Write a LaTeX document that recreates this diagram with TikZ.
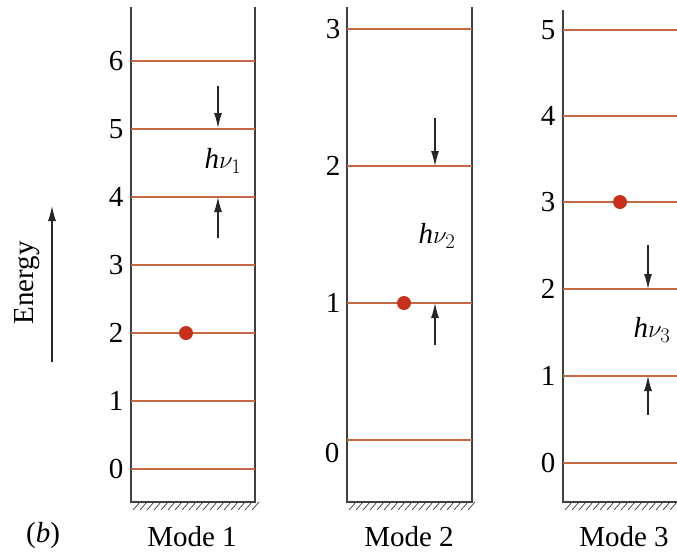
\documentclass[tikz,border=0pt]{standalone}
\usepackage{fontspec}
\setmainfont{Liberation Serif}
\usetikzlibrary{arrows.meta}
\definecolor{levelcol}{RGB}{196,104,72}
\definecolor{dotcol}{RGB}{200,48,28}
\newcommand{\hnu}[1]{{\itshape h}$\nu_{#1}$}
\tikzset{
  wall/.style={line width=1.1pt, black!75},
  level/.style={line width=1.7pt, levelcol},
  hatch/.style={line width=0.7pt, black!75},
  lbl/.style={font=\fontsize{29}{32}\selectfont, inner sep=0pt},
  gap/.style={-{Latex[length=15pt,width=8pt]}, line width=1.1pt, black!85},
  quantum/.style={dotcol, inner sep=0pt, minimum size=14pt, circle, fill=dotcol}
}

\begin{document}
\begin{tikzpicture}[x=1pt,y=-1pt]
\useasboundingbox (0,0) rectangle (677,555);
\clip (0,0) rectangle (677,555);

% energy axis
\coordinate (eLow) at (52,362);
\coordinate (eHigh) at (52,206);
\draw[gap] (eLow) -- (eHigh);
\node[lbl, rotate=90] (energy) at (27,283) {Energy};
\node[lbl] (part) at (43,536) {(\textit{b})};

% mode 1
\draw[wall] (131,7) -- (131,502) -- (255,502) -- (255,7);
\foreach \x in {133,140,...,252} \draw[hatch] (\x,510) -- ++(7,-8);
\foreach \n in {0,...,6} {
  \draw[level] (131,{469-68*\n}) -- (255,{469-68*\n});
  \node[lbl] (mA\n) at (116,{469-68*\n}) {\n};
}
\node[quantum] (dotA) at (186,333) {};
\coordinate (aDown) at (218,86);
\coordinate (aDownEnd) at (218,128);
\coordinate (aUp) at (218,238);
\coordinate (aUpEnd) at (218,197);
\draw[gap] (aDown) -- (aDownEnd);
\draw[gap] (aUp) -- (aUpEnd);
\node[lbl] (hA) at (223,161) {\hnu{1}};
\node[lbl] at (192,537) {Mode 1};

% mode 2
\draw[wall] (347,7) -- (347,502) -- (472,502) -- (472,7);
\foreach \x in {349,356,...,469} \draw[hatch] (\x,510) -- ++(7,-8);
\foreach \n in {0,...,3} {
  \draw[level] (347,{440-137*\n}) -- (472,{440-137*\n});
}
\node[lbl] (mB3) at (333,29) {3};
\node[lbl] (mB2) at (333,166) {2};
\node[lbl] (mB1) at (333,303) {1};
\node[lbl] (mB0) at (332,453) {0};
\node[quantum] (dotB) at (404,303) {};
\coordinate (bDown) at (435,118);
\coordinate (bDownEnd) at (435,166);
\coordinate (bUp) at (435,345);
\coordinate (bUpEnd) at (435,303);
\draw[gap] (bDown) -- (bDownEnd);
\draw[gap] (bUp) -- (bUpEnd);
\node[lbl] (hB) at (437,236) {\hnu{2}};
\node[lbl] at (409,537) {Mode 2};

% mode 3
\draw[wall] (563,10) -- (563,502) -- (690,502);
\foreach \x in {565,572,...,677} \draw[hatch] (\x,510) -- ++(7,-8);
\foreach \n/\y in {0/463,1/376,2/289,3/202,4/116,5/30} {
  \draw[level] (563,\y) -- (690,\y);
  \node[lbl] (mC\n) at (548,\y) {\n};
}
\node[quantum] (dotC) at (620,202) {};
\coordinate (cDown) at (648,245);
\coordinate (cDownEnd) at (648,289);
\coordinate (cUp) at (648,415);
\coordinate (cUpEnd) at (648,376);
\draw[gap] (cDown) -- (cDownEnd);
\draw[gap] (cUp) -- (cUpEnd);
\node[lbl] (hC) at (652,330) {\hnu{3}};
\node[lbl] at (624,537) {Mode 3};
\end{tikzpicture}
\end{document}
